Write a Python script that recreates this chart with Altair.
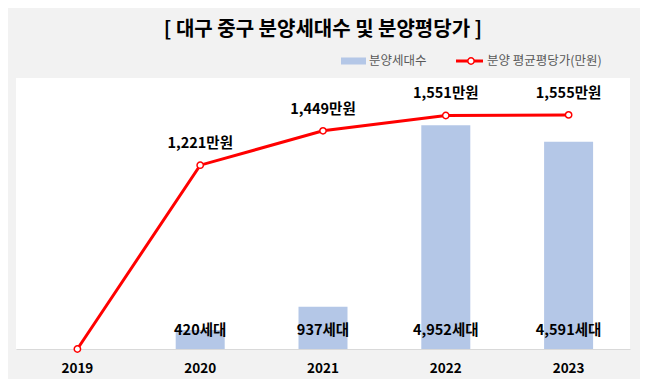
import altair as alt
import pandas as pd

years = ["2019", "2020", "2021", "2022", "2023"]
units = [0, 420, 937, 4952, 4591]
price = [0, 1221, 1449, 1551, 1555]
series_names = ["분양세대수", "분양 평균평당가(만원)"]
title_text = "[ 대구 중구 분양세대수 및 분양평당가 ]"

FONT = "Noto Sans CJK KR"
BAR_C = "#b4c7e7"
LINE_C = "#ff0000"

df = pd.DataFrame({"year": years, "units": units, "price": price})
df["unit_label"] = [f"{u:,}세대" if u > 0 else "" for u in units]
df["price_label"] = [f"{p:,}만원" if p > 0 else "" for p in price]
df["zero"] = 0

W, H = 614, 271

base = alt.Chart(df).encode(
    x=alt.X(
        "year:N",
        sort=years,
        scale=alt.Scale(paddingInner=0, paddingOuter=0),
        axis=alt.Axis(
            title=None, labelAngle=0, labelFont=FONT, labelFontSize=13.5,
            labelFontWeight="bold", labelColor="#000000", ticks=False, tickSize=0,
            labelBaseline="middle", labelPadding=19, domainColor="#d9d9d9",
            domainWidth=1, grid=False,
        ),
    )
)

ybar = alt.Scale(domain=[0, 6000])
bars = base.mark_bar(size=49, color=BAR_C).encode(
    y=alt.Y("units:Q", scale=ybar, axis=None)
)
bar_labels = base.transform_filter("datum.units > 0").mark_text(
    dy=-18, font=FONT, fontSize=14.5, fontWeight="bold", color="#000000", baseline="middle"
).encode(y=alt.Y("zero:Q", scale=ybar, axis=None), text="unit_label:N")
left = alt.layer(bars, bar_labels)

yline = alt.Scale(domain=[0, 1800])
line = base.mark_line(color=LINE_C, strokeWidth=3).encode(
    y=alt.Y("price:Q", scale=yline, axis=None)
)
pts = base.mark_point(filled=True, fill="#ffffff", stroke=LINE_C, strokeWidth=1.5, size=40, opacity=1).encode(
    y=alt.Y("price:Q", scale=yline, axis=None)
)
line_labels = base.transform_filter("datum.price > 0").mark_text(
    dy=-21, font=FONT, fontSize=14.5, fontWeight="bold", color="#000000", baseline="middle"
).encode(y=alt.Y("price:Q", scale=yline, axis=None), text="price_label:N")
right = alt.layer(line, pts, line_labels)

leg_data = alt.Data(values=[{"name": n} for n in series_names])
leg_base = alt.Chart(leg_data)
LY = -17
leg_rect = leg_base.transform_filter(alt.datum.name == series_names[0]).mark_rect(color=BAR_C).encode(
    x=alt.value(325), x2=alt.value(350), y=alt.value(LY - 3.5), y2=alt.value(LY + 3.5)
)
leg_text1 = leg_base.transform_filter(alt.datum.name == series_names[0]).mark_text(
    align="left", baseline="middle", font=FONT, fontSize=12.5, color="#595959"
).encode(x=alt.value(353), y=alt.value(LY), text="name:N")
leg_rule = leg_base.transform_filter(alt.datum.name == series_names[1]).mark_rule(color=LINE_C, strokeWidth=3).encode(
    x=alt.value(440), x2=alt.value(467), y=alt.value(LY)
)
leg_pt = leg_base.transform_filter(alt.datum.name == series_names[1]).mark_point(
    filled=True, fill="#ffffff", stroke=LINE_C, strokeWidth=1.5, size=40, opacity=1
).encode(x=alt.value(455), y=alt.value(LY))
leg_text2 = leg_base.transform_filter(alt.datum.name == series_names[1]).mark_text(
    align="left", baseline="middle", font=FONT, fontSize=12.5, color="#595959"
).encode(x=alt.value(471), y=alt.value(LY), text="name:N")

title_mark = alt.Chart(alt.Data(values=[{"t": title_text}])).mark_text(
    align="center", baseline="middle", font=FONT, fontSize=20, fontWeight="bold", color="#000000"
).encode(x=alt.value(W / 2), y=alt.value(-48), text="t:N")

chart = alt.layer(
    left, right, leg_rect, leg_text1, leg_rule, leg_pt, leg_text2, title_mark
).resolve_scale(y="independent").properties(
    width=W, height=H,
    autosize=alt.AutoSizeParams(type="none"),
    padding={"left": 8, "top": 70, "right": 10, "bottom": 30},
    background="#f2f2f2",
).configure_view(fill="#ffffff", stroke=None)

chart.save("out.html", embed_options={"renderer": "svg", "actions": False})
